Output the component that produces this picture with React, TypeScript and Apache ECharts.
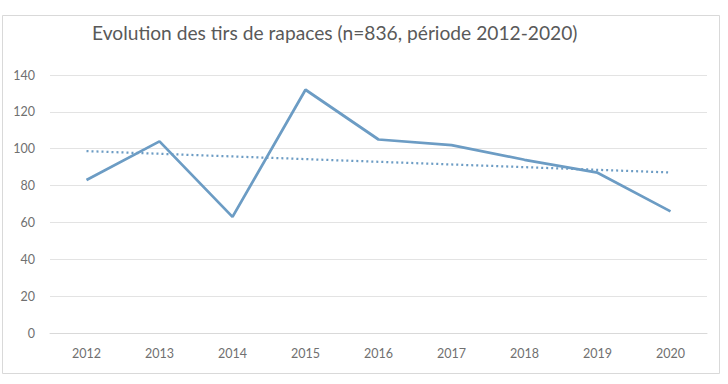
import React, { useEffect, useRef } from "react";
import * as echarts from "echarts";

const years = ["2012", "2013", "2014", "2015", "2016", "2017", "2018", "2019", "2020"];
const tirs = [83, 104, 63, 132, 105, 102, 94, 87, 66];
// linear trend: value at first year and at last year
const trendEnds = [98.7, 87.1];
const yTicks = [0, 20, 40, 60, 80, 100, 120, 140];
const title = "Evolution des tirs de rapaces (n=836, période 2012-2020)";

export default function App() {
  const ref = useRef<HTMLDivElement>(null);
  useEffect(() => {
    document.body.style.margin = "0";
    const chart = echarts.init(ref.current!, null, { renderer: "svg" });
    const trendData = years.map((y, i) =>
      i === 0 ? trendEnds[0] : i === years.length - 1 ? trendEnds[1] : null
    );
    const color = "#6c9cc4";
    chart.setOption({
      animation: false,
      backgroundColor: "#ffffff",
      title: {
        text: title,
        left: 87,
        top: 18,
        textStyle: {
          fontFamily: "Lato",
          fontSize: 19.2,
          fontWeight: "normal",
          color: "#595959",
        },
      },
      graphic: [
        {
          type: "rect",
          shape: { x: 2.5, y: 15.5, width: 717, height: 358 },
          style: { fill: "none", stroke: "#d9d9d9", lineWidth: 1 },
          silent: true,
        },
      ],
      grid: { left: 50, right: 21, top: 75, bottom: 51, containLabel: false },
      xAxis: {
        type: "category",
        data: years,
        boundaryGap: true,
        axisTick: { show: false },
        axisLine: { lineStyle: { color: "#d9d9d9", width: 1 } },
        axisLabel: {
          color: "#707070",
          fontSize: 12.5,
          fontFamily: "Lato",
          margin: 14,
        },
      },
      yAxis: {
        type: "value",
        min: yTicks[0],
        max: yTicks[yTicks.length - 1],
        interval: 20,
        axisLine: { show: false },
        axisTick: { show: false },
        splitLine: { lineStyle: { color: "#e3e3e3", width: 1 } },
        axisLabel: {
          color: "#707070",
          fontSize: 12.5,
          fontFamily: "Lato",
          margin: 15,
        },
      },
      series: [
        {
          type: "line",
          data: tirs,
          symbol: "none",
          lineStyle: { color, width: 2.75 },
          z: 3,
        },
        {
          type: "line",
          data: trendData,
          connectNulls: true,
          symbol: "none",
          lineStyle: { color, width: 2.25, type: [2, 3] },
          z: 2,
        },
      ],
    });
    return () => chart.dispose();
  }, []);
  return (
    <div
      ref={ref}
      style={{ position: "fixed", left: 0, top: 0, width: 728, height: 384 }}
    />
  );
}
